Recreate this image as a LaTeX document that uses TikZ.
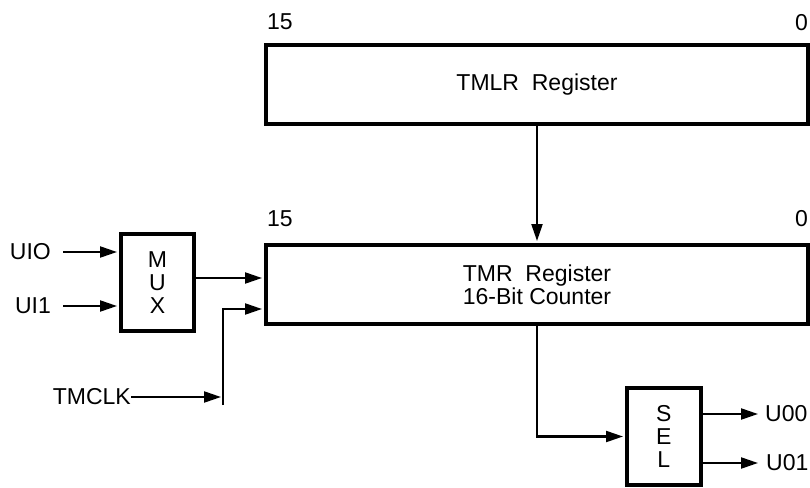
\documentclass[tikz,border=0pt]{standalone}
\usepackage{fontspec}
\setmainfont{Liberation Sans}
\usetikzlibrary{arrows.meta, positioning, calc}
\tikzset{
  sigarrow/.style={-{Triangle[length=17pt, width=11pt]}, line width=2.2pt, shorten >=2pt},
  regbox/.style={rectangle, draw, line width=4pt, inner sep=0pt, align=center, font=\fontsize{23}{23}\selectfont},
  sigtext/.style={inner sep=0pt, font=\fontsize{23}{23}\selectfont}
}

\begin{document}
\begin{tikzpicture}[x=1pt, y=-1pt]
    \useasboundingbox (0,0) rectangle (810,487);

    % Registers
    \node[regbox, minimum width=542pt, minimum height=79pt] (tmlr) at (537,84.5) {TMLR\ \ Register};
    \node[regbox, minimum width=542pt, minimum height=79pt] (tmr) at (537,284.5) {TMR\ \ Register\\16-Bit Counter};

    % Bit numbers
    \node[sigtext, anchor=west] (tmlrmsb) at (267,22) {15};
    \node[sigtext, anchor=east] (tmlrlsb) at (808,23) {0};
    \node[sigtext, anchor=west] (tmrmsb) at (267,219) {15};
    \node[sigtext, anchor=east] (tmrlsb) at (808,219) {0};

    % MUX and SEL
    \node[regbox, minimum width=73pt, minimum height=97.5pt] (mux) at (157.5,282.5) {M\\U\\X};
    \node[regbox, minimum width=73.5pt, minimum height=97pt] (sel) at (663.75,436.5) {S\\E\\L};

    % Inputs
    \node[sigtext, anchor=east] (ui0) at (51,252) {UIO};
    \node[sigtext, anchor=east] (ui1) at (51,306) {UI1};
    \node[sigtext, anchor=east] (tmclk) at (131,397) {TMCLK};
    \coordinate (muxout) at (194,278);
    \coordinate (clkbot) at (223,405);
    \coordinate (clkjoin) at (223,309);

    \draw[sigarrow] ([xshift=12pt]ui0.east) -- (mux.west |- ui0.east);
    \draw[sigarrow] ([xshift=12pt]ui1.east) -- (mux.west |- ui1.east);
    \draw[sigarrow] (muxout) -- (tmr.west |- muxout);
    \draw[sigarrow] (tmclk.east) -- (clkbot |- tmclk.east);
    \draw[sigarrow] (clkbot) -- (clkjoin) -- (tmr.west |- clkjoin);

    % Reload and output path
    \draw[sigarrow] (tmlr.south) -- (tmr.north);
    \draw[sigarrow] (tmr.south) |- (sel.west);

    % Outputs
    \node[sigtext, anchor=west] (u00) at (765,414) {U00};
    \node[sigtext, anchor=west] (u01) at (766,463) {U01};
    \draw[sigarrow] (sel.east |- u00.west) -- ([xshift=-5pt]u00.west);
    \draw[sigarrow] (sel.east |- u01.west) -- ([xshift=-6pt]u01.west);
\end{tikzpicture}
\end{document}
